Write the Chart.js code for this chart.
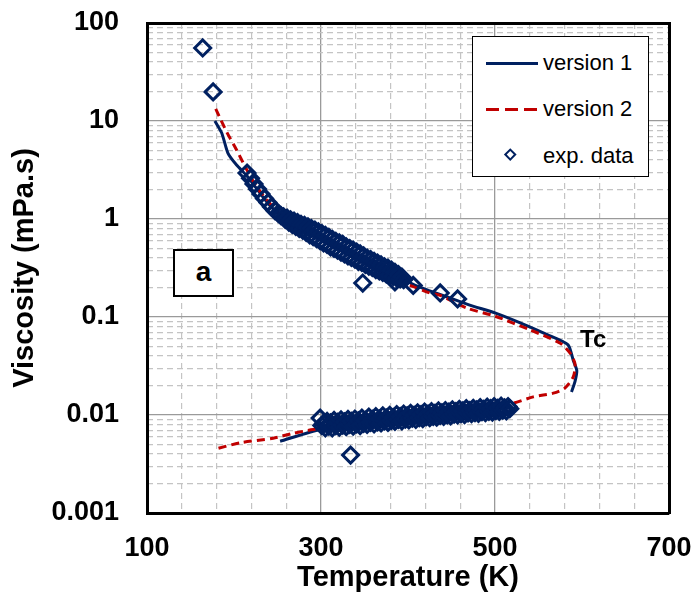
<!DOCTYPE html>
<html>
<head>
<meta charset="utf-8">
<script src="https://cdn.jsdelivr.net/npm/chart.js@4.4.1/dist/chart.umd.min.js"></script>
<style>
  body { margin: 0; background: #fff; font-family: 'Liberation Sans', Arial, sans-serif; }
  #wrap { position: relative; width: 697px; height: 607px; }
  #legend { position: absolute; left: 472px; top: 36px; width: 175px; height: 139px; border: 1px solid #000; background: #fff; }
  .row { position: absolute; left: 0; height: 26px; width: 175px; }
  .row span { position: absolute; left: 70px; top: 0; font-size: 22px; line-height: 26px; color: #000; }
  .solid { position: absolute; left: 13px; top: 12px; width: 52px; height: 3px; background: #002060; }
  .dash { position: absolute; left: 13px; top: 12px; width: 52px; height: 3px;
          background: repeating-linear-gradient(to right, #c00000 0 13px, transparent 13px 19px); }
  .dia { position: absolute; left: 33px; top: 7px; width: 4.5px; height: 4.5px; border: 2.5px solid #002060; transform: rotate(45deg); }
  #boxA { position: absolute; left: 173px; top: 249px; width: 57px; height: 44px; border: 2px solid #000; background: #fff;
          font-weight: bold; font-size: 28px; line-height: 42px; text-align: center; }
  #tc { position: absolute; left: 580px; top: 327px; font-weight: bold; font-size: 24px; line-height: 24px; }
</style>
</head>
<body>
<div id="wrap">
  <canvas id="viscChart"></canvas>
  <div id="boxA">a</div>
  <div id="tc">Tc</div>
  <div id="legend">
    <div class="row" style="top:13px"><div class="solid"></div><span>version 1</span></div>
    <div class="row" style="top:59px"><div class="dash"></div><span>version 2</span></div>
    <div class="row" style="top:106px"><div class="dia"></div><span>exp. data</span></div>
  </div>
</div>
<script>
// axis ticks
const tempTicks = [100, 300, 500, 700];
const tempMinorTicks = [100, 140, 180, 220, 260, 300, 340, 380, 420, 460, 500, 540, 580, 620, 660, 700];
const viscTicks = [0.001, 0.01, 0.1, 1, 10, 100];
const viscTickLabels = ['0.001', '0.01', '0.1', '1', '10', '100'];

// version 1 (liquid branch, gap, vapour branch)
const v1Temp = [178, 186, 193, 203, 215, 225, 235, 245, 255, 265, 275, 285, 295, 305, 315, 325, 335, 345, 355, 368, 385, 406, 425, 445, 471, 500, 529, 560, 584, 590, 594, 592, 588,
                null,
                253, 299, 330, 368, 406, 445, 483, 510];
const v1Visc = [10, 7.5, 4.7, 3.55, 2.75, 2.1, 1.6, 1.27, 1.07, 0.93, 0.84, 0.76, 0.68, 0.62, 0.56, 0.5, 0.455, 0.41, 0.37, 0.32, 0.27, 0.215, 0.185, 0.16, 0.132, 0.11, 0.087, 0.066, 0.052, 0.036, 0.0285, 0.022, 0.0172,
                null,
                0.0054, 0.0071, 0.0076, 0.0085, 0.0095, 0.0104, 0.0112, 0.0117];

// version 2
const v2Temp = [179, 192, 203, 213, 226, 245, 256, 265, 275, 285, 300, 315, 330, 345, 360, 379, 387, 402, 425, 437, 468, 500, 540, 575, 587, 592, 590, 580, 567, 544, 521, 500, 470, 440, 400, 360, 330, 291, 268, 245, 207, 179];
const v2Visc = [13.3, 7.6, 5.06, 3.4, 2.13, 1.32, 1.05, 0.91, 0.82, 0.74, 0.63, 0.53, 0.46, 0.39, 0.33, 0.25, 0.232, 0.21, 0.176, 0.166, 0.123, 0.102, 0.074, 0.054, 0.042, 0.033, 0.0245, 0.0187, 0.0167, 0.0153, 0.0132, 0.0122, 0.0112, 0.0102, 0.0093, 0.0084, 0.0078, 0.0071, 0.0065, 0.0058, 0.0052, 0.0045];

// experimental data
const expOutTemp = [164, 176, 348, 385, 406, 437, 457, 334];
const expOutVisc = [55.6, 19.8, 0.222, 0.228, 0.21, 0.176, 0.153, 0.0039];

const expLiqTemp = [215, 219, 223, 227, 231, 235, 239, 243, 247, 251, 254, 257,
  259, 261, 263, 265, 267, 269, 271, 273, 275, 277, 279, 281, 283, 285, 287, 289, 291, 293, 295, 297, 299, 301, 303, 305,
  307, 309, 311, 313, 315, 317, 319, 321, 323, 325, 327, 329, 331, 333, 335, 337, 339, 341, 343, 345, 347, 349, 351, 353,
  355, 357, 359, 361, 363, 365, 367, 369, 371, 373, 375, 377, 379, 381, 383, 385, 387, 389, 391, 393, 395];
const expLiqVisc = [2.94, 2.6, 2.28, 2.02, 1.8, 1.62, 1.47, 1.33, 1.22, 1.14, 1.08, 1.05,
  0.99, 1.02, 0.93, 0.98, 0.88, 0.95, 0.84, 0.92, 0.8, 0.88, 0.77, 0.86, 0.73, 0.83, 0.69, 0.8, 0.66, 0.77, 0.63, 0.74, 0.6, 0.71, 0.57, 0.68,
  0.55, 0.65, 0.52, 0.62, 0.5, 0.59, 0.48, 0.57, 0.46, 0.55, 0.44, 0.52, 0.42, 0.5, 0.405, 0.48, 0.39, 0.46, 0.37, 0.44, 0.36, 0.42, 0.345, 0.4,
  0.33, 0.385, 0.32, 0.37, 0.305, 0.355, 0.295, 0.34, 0.285, 0.325, 0.275, 0.315, 0.268, 0.3, 0.26, 0.285, 0.25, 0.27, 0.245, 0.255, 0.24];

const expVapTemp = [299, 301, 303, 305, 307, 309, 311, 313, 315, 317, 319, 321, 323, 325, 327, 329, 331, 333, 335, 337, 339, 341, 343, 345, 347, 349,
  351, 353, 355, 357, 359, 361, 363, 365, 367, 369, 371, 373, 375, 377, 379, 381, 383, 385, 387, 389, 391, 393, 395, 397, 399, 401,
  403, 405, 407, 409, 411, 413, 415, 417, 419, 421, 423, 425, 427, 429, 431, 433, 435, 437, 439, 441, 443, 445, 447, 449, 451, 453,
  455, 457, 459, 461, 463, 465, 467, 469, 471, 473, 475, 477, 479, 481, 483, 485, 487, 489, 491, 493, 495, 497, 499, 501, 503, 505,
  507, 509, 511, 513, 515, 517];
const expVapVisc = [0.0093, 0.0078, 0.0082, 0.0074, 0.0086, 0.0077, 0.0083, 0.0074, 0.0088, 0.0078, 0.0084, 0.0075, 0.0089, 0.0079, 0.0085, 0.0076, 0.009, 0.008, 0.0086, 0.0077, 0.0091, 0.0081, 0.0087, 0.0078, 0.0093, 0.0082,
  0.0088, 0.008, 0.0095, 0.0084, 0.009, 0.0081, 0.0096, 0.0085, 0.0091, 0.0083, 0.0098, 0.0087, 0.0093, 0.0084, 0.0099, 0.0088, 0.0094, 0.0086, 0.0101, 0.009, 0.0096, 0.0087, 0.0102, 0.0091, 0.0098, 0.0089,
  0.0104, 0.0093, 0.0099, 0.009, 0.0105, 0.0094, 0.0101, 0.0092, 0.0107, 0.0096, 0.0102, 0.0094, 0.0108, 0.0097, 0.0104, 0.0095, 0.011, 0.0099, 0.0105, 0.0097, 0.0111, 0.01, 0.0107, 0.0098, 0.0113, 0.0102,
  0.0108, 0.01, 0.0114, 0.0103, 0.011, 0.0101, 0.0116, 0.0105, 0.0111, 0.0103, 0.0117, 0.0106, 0.0113, 0.0104, 0.0119, 0.0108, 0.0114, 0.0106, 0.012, 0.0109, 0.0116, 0.0107, 0.0122, 0.0111, 0.0117, 0.0109,
  0.0123, 0.0112, 0.0118, 0.011, 0.0122, 0.0116];

// minor log grid: 2..9 in every decade
const viscMinorTicks = [];
for (let d = 0; d < viscTicks.length - 1; d++) {
    for (let m = 2; m < 10; m++) {
        viscMinorTicks.push(+(viscTicks[d] * m).toPrecision(3));
    }
}

const NAVY = '#002060';
const RED = '#c00000';

function toPoints(xs, ys) {
    return xs.map((x, i) => ({ x: x, y: ys[i] }));
}

Chart.defaults.font.family = "'Liberation Sans', Arial, sans-serif";
Chart.defaults.color = '#000';

const minorGrid = (majors) => ({
    color: (c) => (c.tick && majors.includes(c.tick.value)) ? 'rgba(0,0,0,0)' : '#c4c4c4',
    lineWidth: 1.2,
    drawTicks: false
});

const expPoints = toPoints(expOutTemp, expOutVisc)
    .concat(toPoints(expLiqTemp, expLiqVisc))
    .concat(toPoints(expVapTemp, expVapVisc));

const ctx = document.getElementById('viscChart').getContext('2d');
const chart = new Chart(ctx, {
    type: 'scatter',
    data: {
        datasets: [
            {
                label: 'exp. data',
                data: expPoints,
                pointStyle: 'rectRot',
                pointRadius: 8,
                pointBorderWidth: 3,
                pointBorderColor: NAVY,
                pointBackgroundColor: 'rgba(255,255,255,0)',
                order: 1
            },
            {
                label: 'version 2',
                data: toPoints(v2Temp, v2Visc),
                showLine: true,
                borderColor: RED,
                borderWidth: 3,
                borderDash: [8, 5],
                pointRadius: 0,
                tension: 0.25,
                order: 2
            },
            {
                label: 'version 1',
                data: toPoints(v1Temp, v1Visc),
                showLine: true,
                spanGaps: false,
                borderColor: NAVY,
                borderWidth: 3,
                pointRadius: 0,
                tension: 0.2,
                order: 3
            }
        ]
    },
    options: {
        responsive: true,
        maintainAspectRatio: false,
        animation: false,
        layout: { padding: { top: 23, right: 28, bottom: 0, left: 0 } },
        plugins: {
            legend: { display: false },
            tooltip: { enabled: false }
        },
        scales: {
            xMinor: {
                type: 'linear', position: 'bottom', min: 100, max: 700,
                afterBuildTicks: (s) => { s.ticks = tempMinorTicks.map(v => ({ value: v })); },
                ticks: { display: false },
                grid: minorGrid(tempTicks),
                border: { display: false, dash: [6, 4] }
            },
            x: {
                type: 'linear', position: 'bottom', min: 100, max: 700,
                afterBuildTicks: (s) => { s.ticks = tempTicks.map(v => ({ value: v })); },
                afterFit: (s) => { s.height = 94; s.paddingLeft = 0; s.paddingRight = 0; },
                ticks: { autoSkip: false, maxRotation: 0, padding: 19, font: { size: 27, weight: 'bold' } },
                grid: { color: (c) => (c.tick && (c.tick.value === 100 || c.tick.value === 700)) ? 'rgba(0,0,0,0)' : '#9a9a9a', lineWidth: 1.3, drawTicks: false },
                border: { color: '#000', width: 3 },
                title: { display: true, text: 'Temperature (K)', font: { size: 29, weight: 'bold' }, padding: { top: 0, bottom: 12 } }
            },
            xTop: {
                type: 'linear', position: 'top', min: 100, max: 700,
                ticks: { display: false },
                grid: { color: 'rgba(0,0,0,0)', drawTicks: false },
                border: { color: '#000', width: 3 }
            },
            yMinor: {
                type: 'logarithmic', position: 'left', min: 0.001, max: 100,
                afterBuildTicks: (s) => { s.ticks = viscMinorTicks.map(v => ({ value: v })); },
                ticks: { display: false },
                grid: minorGrid([]),
                border: { display: false, dash: [6, 4] }
            },
            y: {
                type: 'logarithmic', position: 'left', min: 0.001, max: 100,
                afterBuildTicks: (s) => { s.ticks = viscTicks.map(v => ({ value: v })); },
                afterFit: (s) => { s.width = 147; s.paddingTop = 0; s.paddingBottom = 0; },
                ticks: {
                    autoSkip: false, padding: 28, font: { size: 27, weight: 'bold' },
                    callback: (v) => viscTickLabels[viscTicks.indexOf(v)]
                },
                grid: { color: (c) => (c.tick && (c.tick.value === 0.001 || c.tick.value === 100)) ? 'rgba(0,0,0,0)' : '#9a9a9a', lineWidth: 1.3, drawTicks: false },
                border: { color: '#000', width: 3 },
                title: { display: true, text: 'Viscosity (mPa.s)', font: { size: 29, weight: 'bold' }, padding: { top: 8, bottom: 0 } }
            },
            yRight: {
                type: 'logarithmic', position: 'right', min: 0.001, max: 100,
                ticks: { display: false },
                grid: { color: 'rgba(0,0,0,0)', drawTicks: false },
                border: { color: '#000', width: 3 }
            }
        }
    }
});
</script>
</body>
</html>
